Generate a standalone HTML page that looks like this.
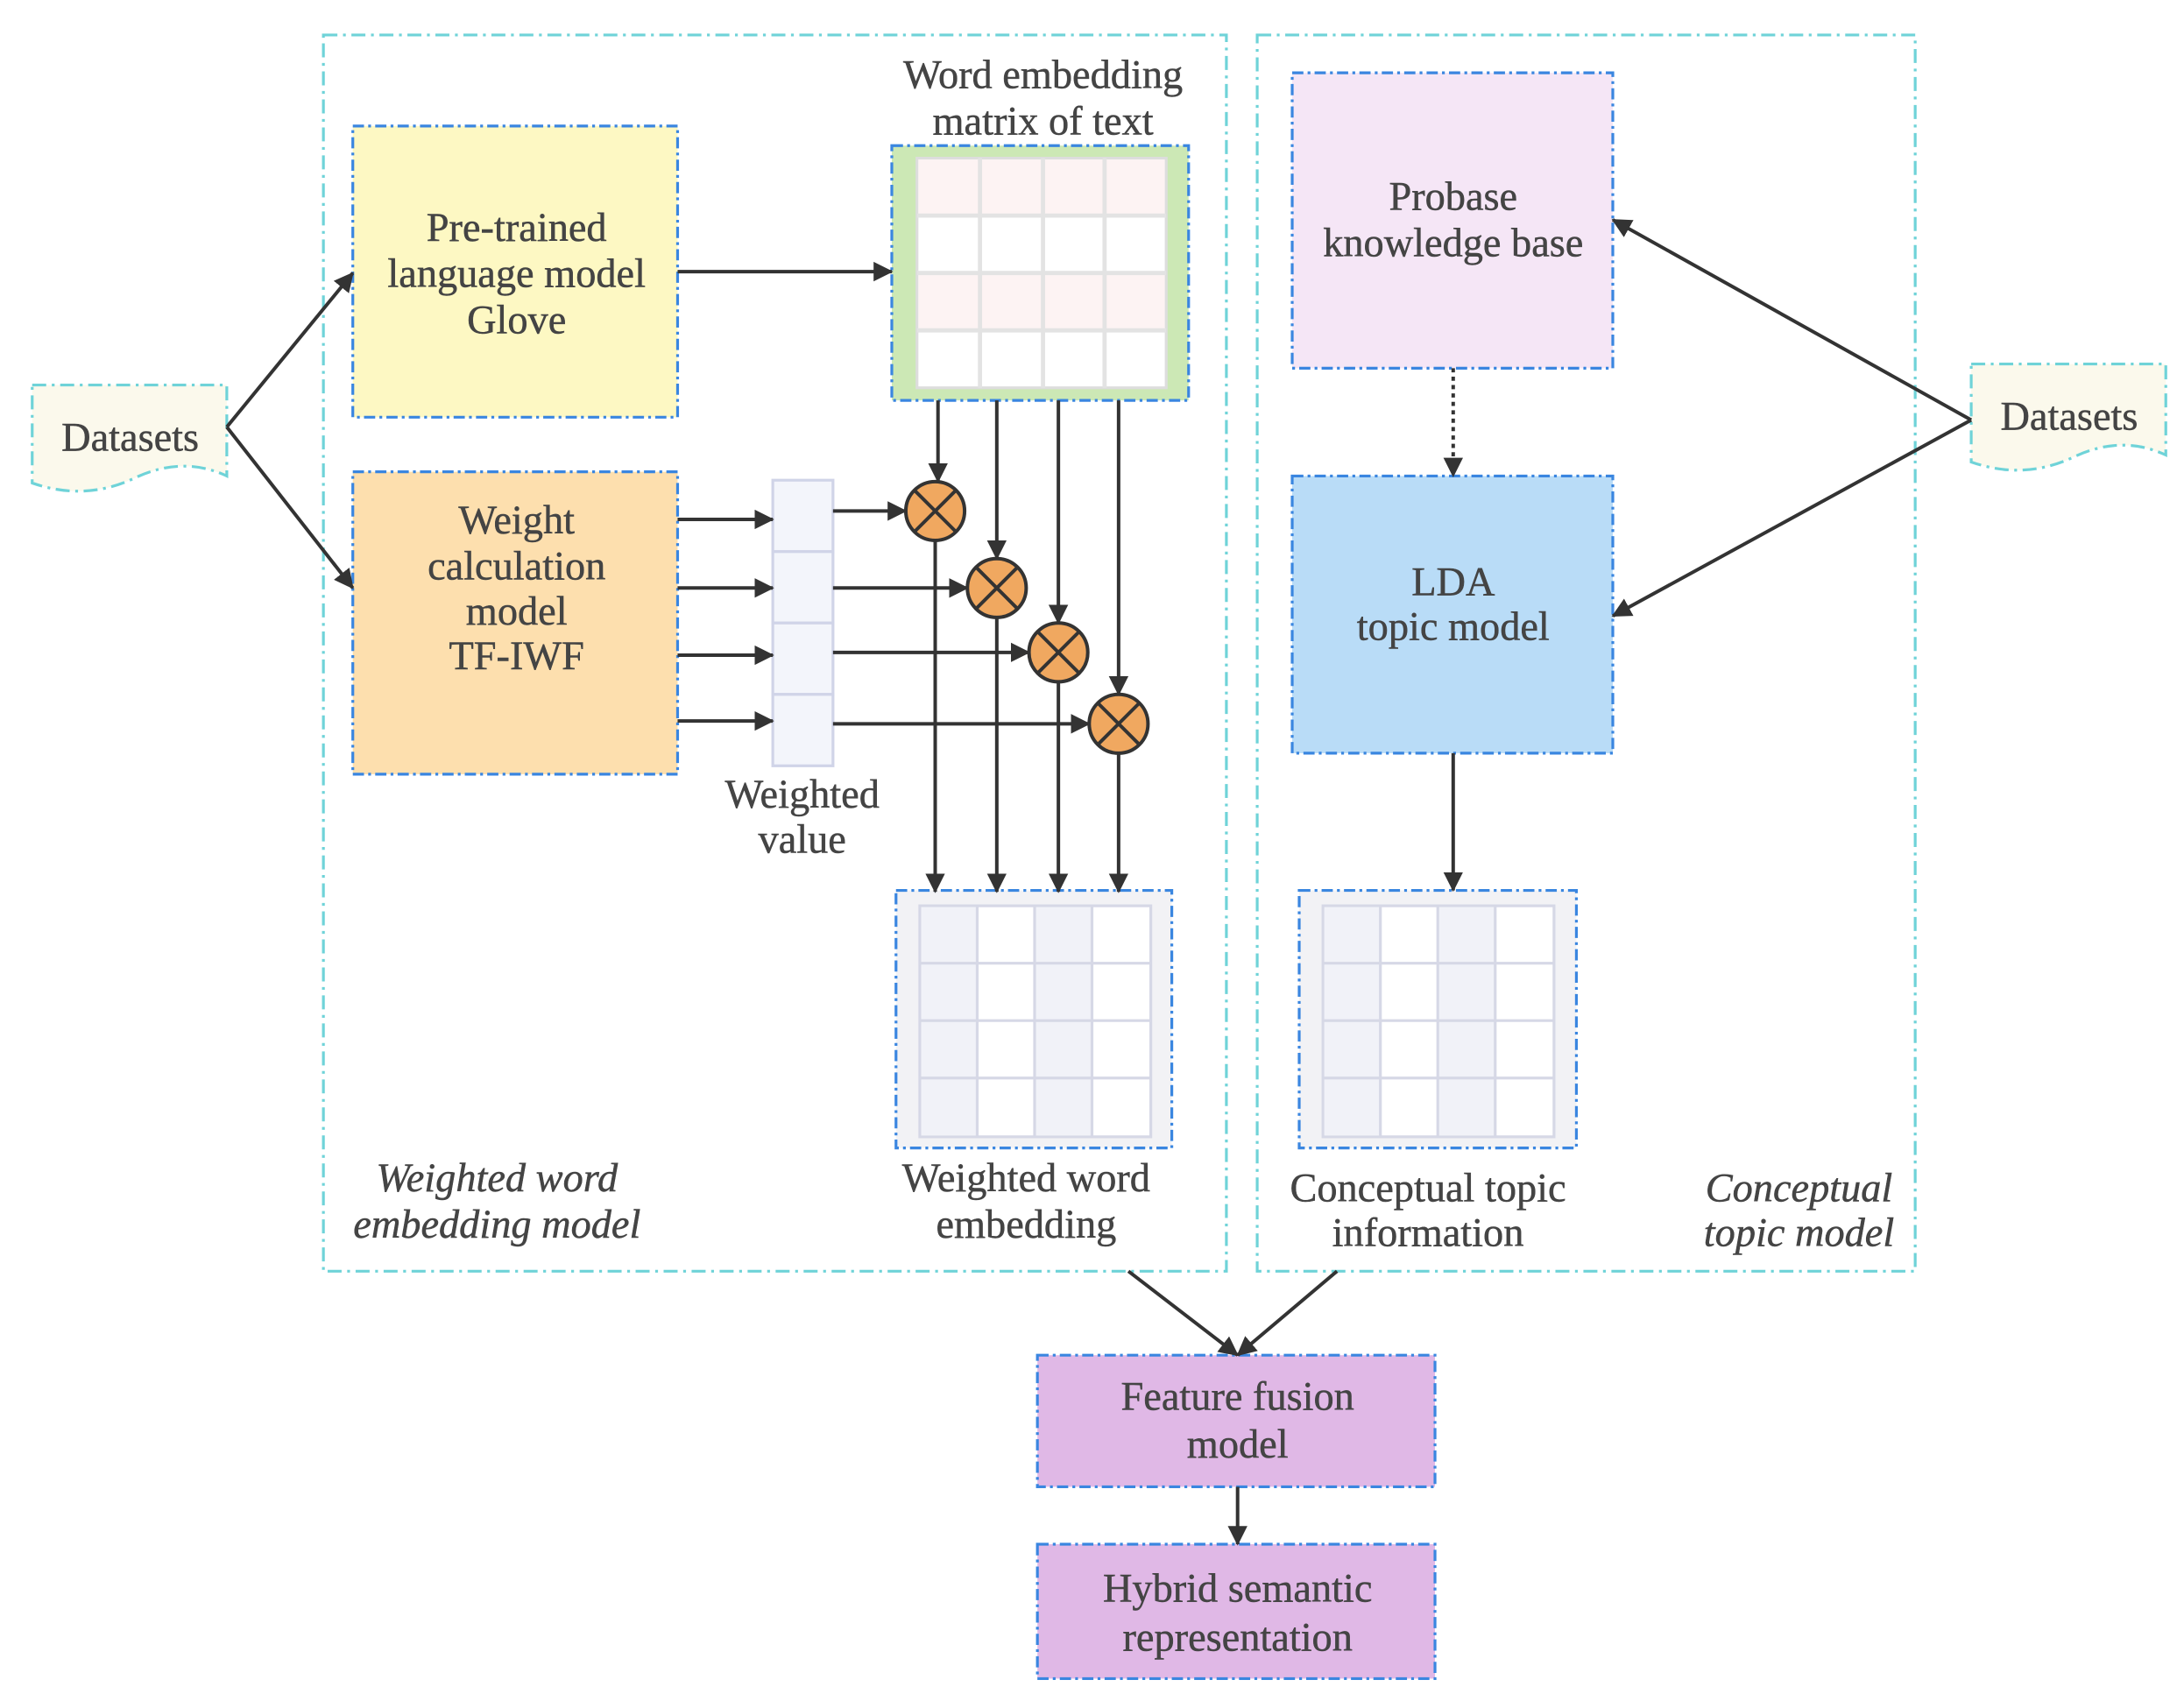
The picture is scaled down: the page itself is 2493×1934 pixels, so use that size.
<!DOCTYPE html>
<html><head><meta charset="utf-8"><style>html,body{margin:0;padding:0;background:#fff}svg{display:block}</style></head>
<body>
<svg width="2493" height="1934" viewBox="0 0 1560 1210" preserveAspectRatio="none" xmlns="http://www.w3.org/2000/svg">
<defs>
<marker id="ah" markerWidth="14" markerHeight="14" refX="13" refY="7" orient="auto" markerUnits="userSpaceOnUse" viewBox="0 0 14 14">
<path d="M0,0 L14,7 L0,14 z" fill="#333"/></marker>
</defs>
<style>
text{font-family:"Liberation Serif",serif;font-size:29px;fill:#444;text-anchor:middle;stroke:#444;stroke-width:0.3}
.it{font-style:italic}
.cy{fill:none;stroke:#6fd3d8;stroke-width:2;stroke-dasharray:10,4,2,4}
.bl{stroke:#3a86e0;stroke-width:2;stroke-dasharray:8,3,2,3}
.ln{stroke:#333;stroke-width:2.5;fill:none}
</style>
<rect x="231" y="25" width="645" height="883" class="cy"/>
<rect x="898" y="25" width="470" height="883" class="cy"/>
<path d="M23,275 H162 V340 Q130,325 95,342 Q60,358 23,345 Z" fill="#fbf9ec" stroke="#6fd3d8" stroke-width="2" stroke-dasharray="10,4,2,4"/>
<text x="93" y="322">Datasets</text>
<path d="M1408,260 H1547 V325 Q1515,310 1480,327 Q1445,343 1408,330 Z" fill="#fbf9ec" stroke="#6fd3d8" stroke-width="2" stroke-dasharray="10,4,2,4"/>
<text x="1478" y="307">Datasets</text>
<rect x="252" y="90" width="232" height="208" fill="#fdf8c3" class="bl"/>
<text x="369" y="172">Pre-trained</text><text x="369" y="205">language model</text><text x="369" y="238">Glove</text>
<rect x="252" y="337" width="232" height="216" fill="#fddfae" class="bl"/>
<text x="369" y="381">Weight</text><text x="369" y="414">calculation</text><text x="369" y="446">model</text><text x="369" y="478">TF-IWF</text>
<text x="745" y="63">Word embedding</text><text x="745" y="96">matrix of text</text>
<rect x="637" y="104" width="212" height="182" fill="#cce8b5" class="bl"/>
<rect x="655" y="113" width="178" height="164" fill="#fff" stroke="#ddd" stroke-width="2"/>
<rect x="656" y="114" width="176" height="39" fill="#fdf3f3"/>
<rect x="656" y="196" width="176" height="39" fill="#fdf3f3"/>
<g stroke="#e3e3e3" stroke-width="3"><line x1="700" y1="113" x2="700" y2="277"/><line x1="745" y1="113" x2="745" y2="277"/><line x1="789" y1="113" x2="789" y2="277"/><line x1="655" y1="154" x2="833" y2="154"/><line x1="655" y1="195" x2="833" y2="195"/><line x1="655" y1="236" x2="833" y2="236"/></g>
<g fill="#f3f5fb" stroke="#d0d4e8" stroke-width="2"><rect x="552" y="343" width="43" height="51"/><rect x="552" y="394" width="43" height="51"/><rect x="552" y="445" width="43" height="51"/><rect x="552" y="496" width="43" height="51"/></g>
<text x="573" y="577">Weighted</text><text x="573" y="609">value</text>
<rect x="640" y="636" width="197" height="184" fill="#f2f2f5" class="bl"/>
<rect x="657" y="647" width="165" height="165" fill="#fff" stroke="#d6d8e6" stroke-width="2"/>
<rect x="658" y="648" width="40" height="163" fill="#f1f2f8"/><rect x="740" y="648" width="40" height="163" fill="#f1f2f8"/>
<g stroke="#d6d8e6" stroke-width="2"><line x1="698" y1="647" x2="698" y2="812"/><line x1="739" y1="647" x2="739" y2="812"/><line x1="780" y1="647" x2="780" y2="812"/><line x1="657" y1="688" x2="822" y2="688"/><line x1="657" y1="729" x2="822" y2="729"/><line x1="657" y1="770" x2="822" y2="770"/></g>
<text x="733" y="851">Weighted word</text><text x="733" y="884">embedding</text>
<text x="355" y="851" class="it">Weighted word</text><text x="355" y="884" class="it">embedding model</text>
<rect x="923" y="52" width="229" height="211" fill="#f5e6f6" class="bl"/>
<text x="1038" y="150">Probase</text><text x="1038" y="183">knowledge base</text>
<rect x="923" y="340" width="229" height="198" fill="#b9dcf7" class="bl"/>
<text x="1038" y="425">LDA</text><text x="1038" y="457">topic model</text>
<rect x="928" y="636" width="198" height="184" fill="#f2f2f5" class="bl"/>
<rect x="945" y="647" width="165" height="165" fill="#fff" stroke="#d6d8e6" stroke-width="2"/>
<rect x="946" y="648" width="40" height="163" fill="#f1f2f8"/><rect x="1028" y="648" width="40" height="163" fill="#f1f2f8"/>
<g stroke="#d6d8e6" stroke-width="2"><line x1="986" y1="647" x2="986" y2="812"/><line x1="1027" y1="647" x2="1027" y2="812"/><line x1="1068" y1="647" x2="1068" y2="812"/><line x1="945" y1="688" x2="1110" y2="688"/><line x1="945" y1="729" x2="1110" y2="729"/><line x1="945" y1="770" x2="1110" y2="770"/></g>
<text x="1020" y="858">Conceptual topic</text><text x="1020" y="890">information</text>
<text x="1285" y="858" class="it">Conceptual</text><text x="1285" y="890" class="it">topic model</text>
<rect x="741" y="968" width="284" height="94" fill="#e0b8e6" class="bl"/>
<text x="884" y="1007">Feature fusion</text><text x="884" y="1041">model</text>
<rect x="741" y="1103" width="284" height="96" fill="#e0b8e6" class="bl"/>
<text x="884" y="1144">Hybrid semantic</text><text x="884" y="1179">representation</text>
<g class="ln" marker-end="url(#ah)">
<line x1="162" y1="305" x2="252" y2="195"/>
<line x1="162" y1="305" x2="252" y2="420"/>
<line x1="484" y1="194" x2="637" y2="194"/>
<line x1="484" y1="371" x2="552" y2="371"/>
<line x1="484" y1="420" x2="552" y2="420"/>
<line x1="484" y1="468" x2="552" y2="468"/>
<line x1="484" y1="515" x2="552" y2="515"/>
<line x1="595" y1="365" x2="647" y2="365"/>
<line x1="595" y1="420" x2="691" y2="420"/>
<line x1="595" y1="466" x2="735" y2="466"/>
<line x1="595" y1="517" x2="778" y2="517"/>
<line x1="670" y1="286" x2="670" y2="344"/>
<line x1="712" y1="286" x2="712" y2="399"/>
<line x1="756" y1="286" x2="756" y2="445"/>
<line x1="799" y1="286" x2="799" y2="496"/>
<line x1="668" y1="386" x2="668" y2="637"/>
<line x1="712" y1="441" x2="712" y2="637"/>
<line x1="756" y1="487" x2="756" y2="637"/>
<line x1="799" y1="538" x2="799" y2="637"/>
<line x1="1408" y1="300" x2="1152" y2="157"/>
<line x1="1408" y1="300" x2="1152" y2="440"/>
<line x1="1038" y1="538" x2="1038" y2="636"/>
<line x1="806" y1="908" x2="884" y2="968"/>
<line x1="955" y1="908" x2="884" y2="968"/>
<line x1="884" y1="1062" x2="884" y2="1103"/>
<line x1="1038" y1="263" x2="1038" y2="340" stroke-dasharray="3,3"/>
</g>
<g fill="#f0a860" stroke="#333" stroke-width="2.5">
<circle cx="668" cy="365" r="21"/><circle cx="712" cy="420" r="21"/><circle cx="756" cy="466" r="21"/><circle cx="799" cy="517" r="21"/>
</g>
<g stroke="#333" stroke-width="2.5">
<path d="M653,350 L683,380 M683,350 L653,380"/>
<path d="M697,405 L727,435 M727,405 L697,435"/>
<path d="M741,451 L771,481 M771,451 L741,481"/>
<path d="M784,502 L814,532 M814,502 L784,532"/>
</g>
</svg>
</body></html>
